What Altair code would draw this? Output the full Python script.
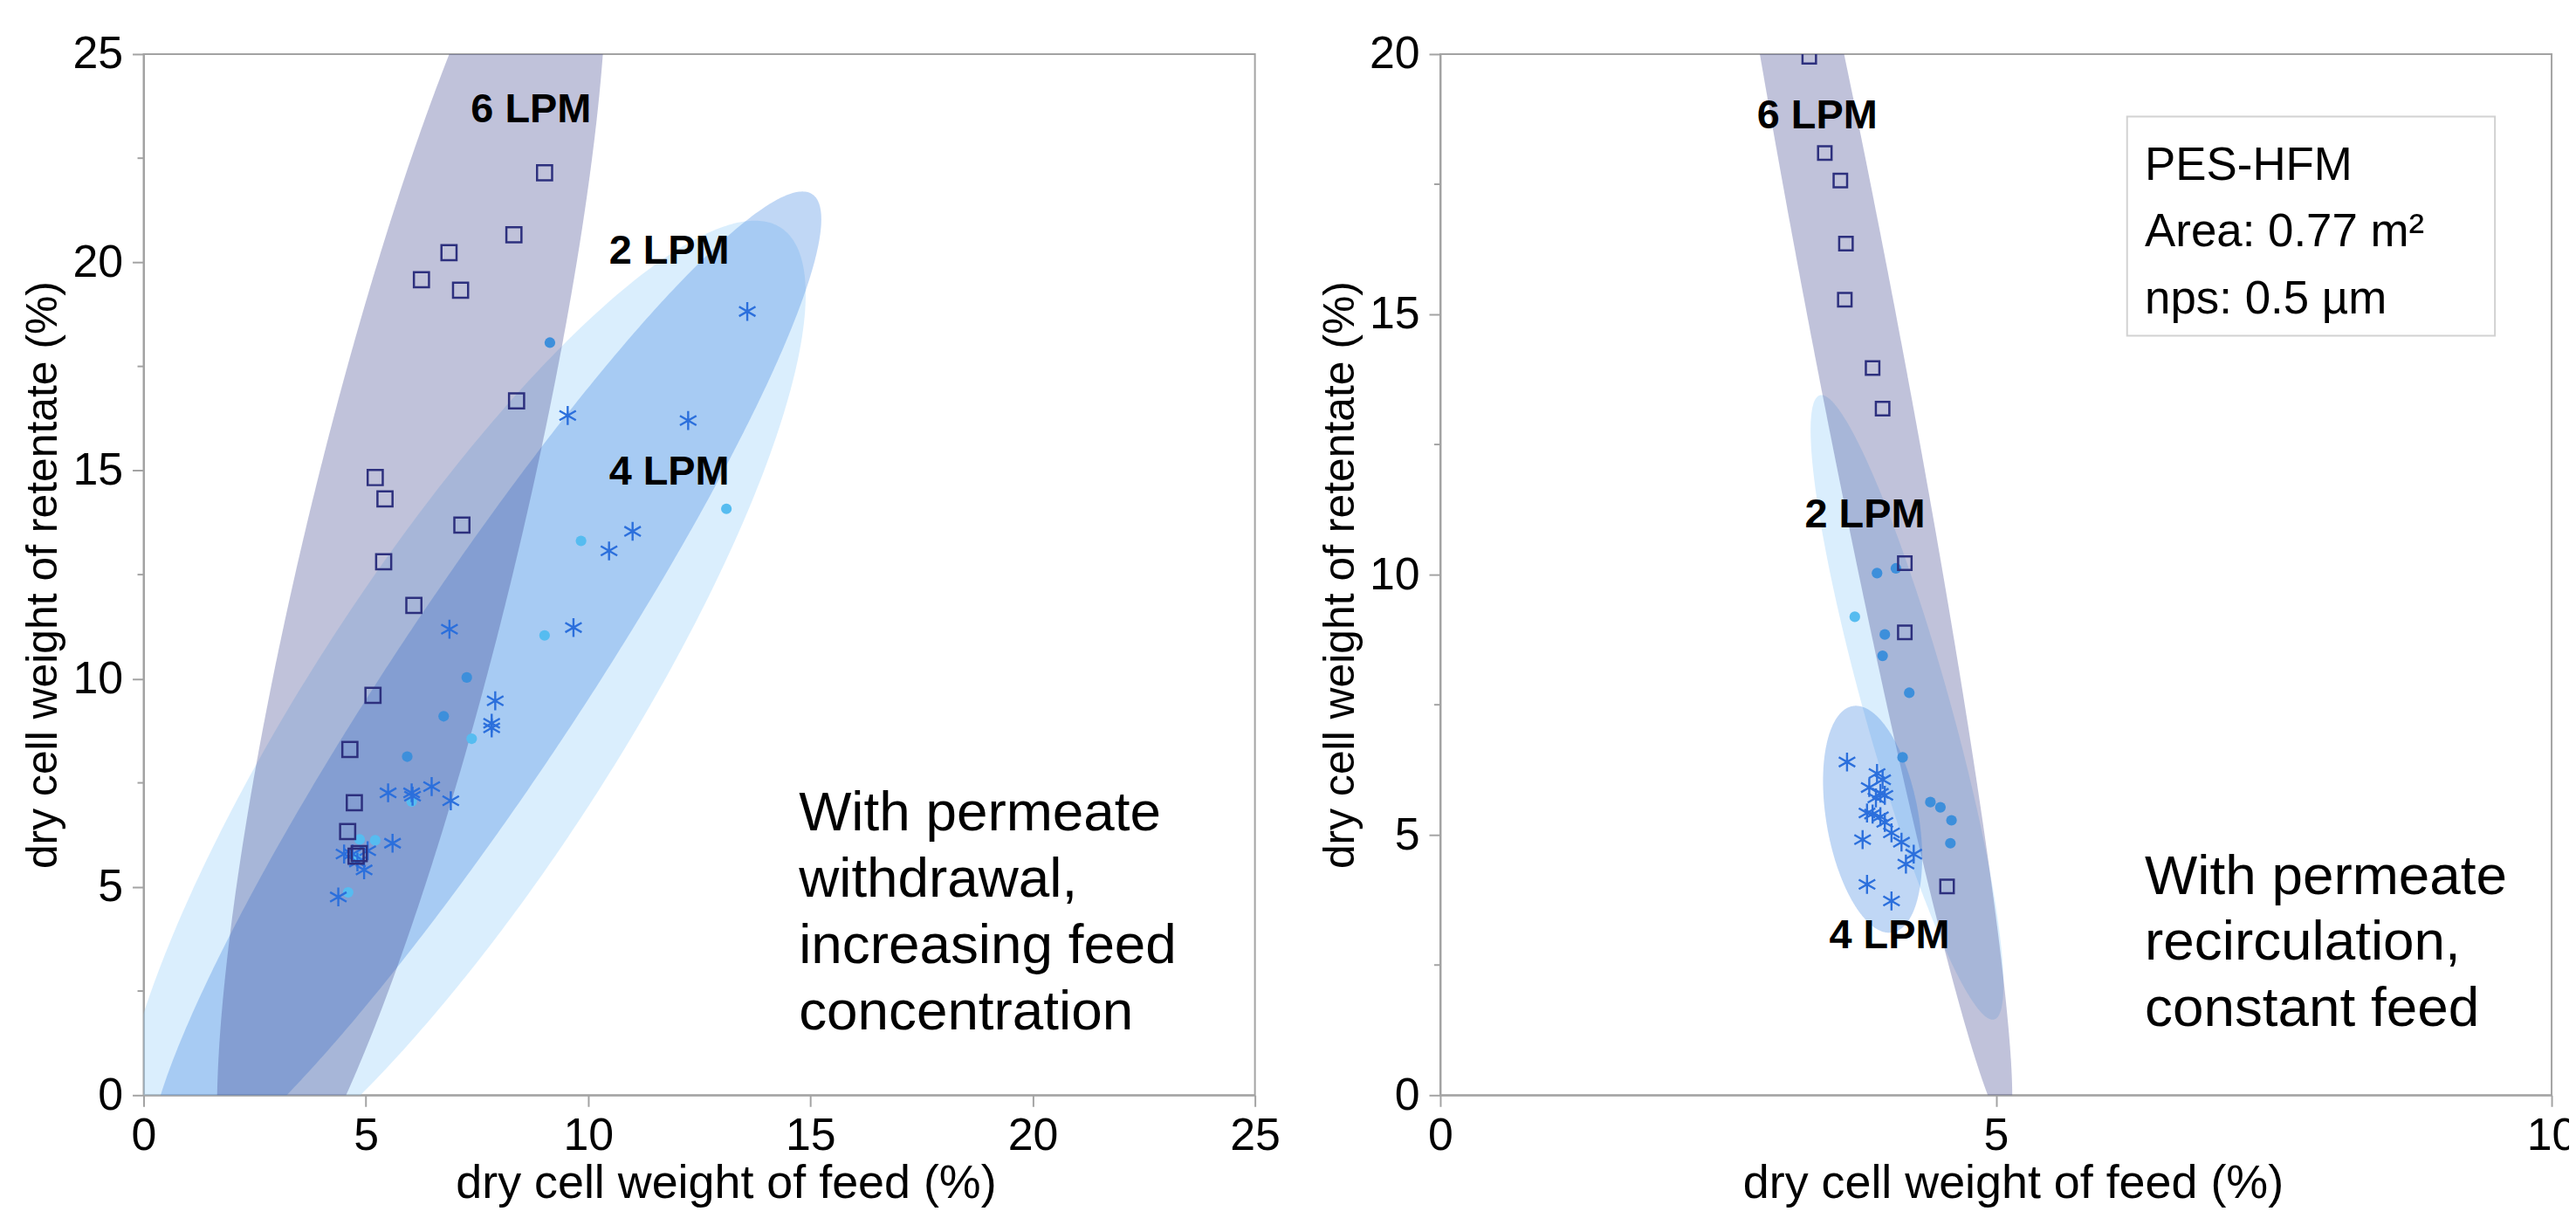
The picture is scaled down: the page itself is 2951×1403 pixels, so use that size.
import altair as alt
import pandas as pd
import numpy as np

# ---------------- data ----------------
# Left panel: with permeate withdrawal
L6_x = [9.02, 8.33, 6.87, 6.25, 7.13, 8.39, 5.21, 5.43, 7.16, 5.40, 6.08, 5.16, 4.64, 4.74, 4.59, 4.78, 4.85]
L6_y = [22.15, 20.66, 20.23, 19.58, 19.33, 16.67, 14.83, 14.32, 13.69, 12.81, 11.76, 9.60, 8.30, 7.02, 6.33, 5.74, 5.80]
L4_x = [13.58, 9.54, 12.25, 11.00, 10.47, 6.88, 9.67, 7.91, 7.83, 7.83, 5.50, 6.03, 6.05, 6.48, 6.91, 5.60, 4.51, 4.70, 5.04, 4.96, 4.38, 4.81]
L4_y = [18.82, 16.32, 16.20, 13.54, 13.07, 11.19, 11.23, 9.47, 8.93, 8.82, 7.26, 7.26, 7.18, 7.41, 7.07, 6.05, 5.79, 5.79, 5.87, 5.41, 4.76, 5.60]
L2a_x = [9.14, 7.27, 6.75, 5.93]
L2a_y = [18.07, 10.03, 9.10, 8.13]
L2b_x = [9.84, 13.11, 9.02, 7.38, 6.03, 5.21, 4.86, 4.60, 4.78]
L2b_y = [13.31, 14.08, 11.04, 8.56, 7.05, 6.12, 6.14, 4.87, 5.70]

# Right panel: with permeate recirculation
R6_x = [3.32, 3.46, 3.60, 3.65, 3.64, 3.89, 3.98, 4.18, 4.18, 4.56]
R6_y = [19.95, 18.10, 17.57, 16.36, 15.28, 13.97, 13.19, 10.22, 8.89, 4.01]
R4_x = [3.66, 3.93, 3.98, 3.86, 3.96, 4.00, 3.92, 3.84, 3.89, 3.96, 4.00, 4.06, 4.15, 4.26, 4.19, 3.80, 3.84, 4.06]
R4_y = [6.40, 6.18, 6.06, 5.91, 5.80, 5.76, 5.71, 5.42, 5.40, 5.35, 5.24, 5.04, 4.86, 4.63, 4.44, 4.91, 4.05, 3.73]
R2a_x = [3.93, 4.10, 4.00, 3.98, 4.22, 4.16, 4.41, 4.50, 4.60, 4.59]
R2a_y = [10.03, 10.12, 8.85, 8.44, 7.73, 6.49, 5.63, 5.53, 5.28, 4.84]
R2b_x = [3.73]
R2b_y = [9.19]

# density ellipses: centre x, centre y, conjugate (vertical) half-diameter vx, vy, horizontal half-width
L_ell = {"2 LPM": (7.15, 9.0, 6.6, 12.0, 4.05),
         "4 LPM": (7.68, 9.8, 7.14, 11.9, 2.5),
         "6 LPM": (6.03, 13.3, 3.63, 16.5, 2.45)}
R_ell = {"2 LPM": (4.20, 7.45, -0.77, 6.0, 0.40),
         "6 LPM": (3.70, 15.0, -1.39, 15.6, 0.40),
         "4 LPM": (3.89, 5.3, -0.15, 2.18, 0.42)}

L_labels = ["6 LPM", "2 LPM", "4 LPM"]
L_lab_x = [7.36, 10.47, 10.47]
L_lab_y = [23.36, 19.96, 14.66]
R_labels = ["6 LPM", "2 LPM", "4 LPM"]
R_lab_x = [2.85, 3.28, 3.5]
R_lab_y = [18.58, 10.91, 2.82]

L_note = ["With permeate", "withdrawal,", "increasing feed", "concentration"]
L_note_x, L_note_y0, L_note_dy = 14.74, 6.35, 1.59
R_note = ["With permeate", "recirculation,", "constant feed"]
R_note_x, R_note_y0, R_note_dy = 6.34, 3.87, 1.27
R_box_lines = ["PES-HFM", "Area: 0.77 m\u00b2", "nps: 0.5 \u00b5m"]
R_box = (6.18, 9.49, 14.59, 18.8)
R_box_text_x, R_box_y0, R_box_dy = 6.34, 17.59, 1.285

L_minor = [2.5, 7.5, 12.5, 17.5, 22.5]
R_minor = [2.5, 7.5, 12.5, 17.5]

# ---------------- styles ----------------
ELL_COL = {"2 LPM": ("#9fd3fa", 0.38), "4 LPM": ("#3c82e0", 0.32), "6 LPM": ("#3c428c", 0.32)}
REG = "Liberation Sans, Arial"
AX = "#a3a3a3"
W, H = 1277, 1196


def ellipse_df(p, n=241):
    cx, cy, vx, vy, h = p
    t = np.linspace(-np.pi / 2, np.pi / 2, n)
    s, c = np.sin(t), np.cos(t)
    mid = cx + vx * s
    return pd.DataFrame({"ey": cy + vy * s, "xl": mid - h * c, "xr": mid + h * c})


def panel(xmax, ymax, xvals, yvals, ells, sq, ast, da, db, labs, note, box, minor, sqsize, titlex):
    xs = alt.Scale(domain=[0, xmax], nice=False, zero=False)
    ys = alt.Scale(domain=[0, ymax], nice=False, zero=False)
    xax = alt.Axis(values=xvals, tickSize=13, tickWidth=2, tickColor=AX, domainColor=AX, domainWidth=2,
                   labelFont=REG, labelFontSize=52, labelColor="black", labelPadding=8, labelFlush=False,
                   title="dry cell weight of feed (%)", titleFont=REG, titleFontSize=54, titleFontWeight="normal",
                   titleColor="black", titlePadding=3, titleX=titlex, grid=False)
    yax = alt.Axis(values=yvals, tickSize=13, tickWidth=2, tickColor=AX, domainColor=AX, domainWidth=2,
                   labelFont=REG, labelFontSize=52, labelColor="black", labelPadding=11, labelFlush=False,
                   title="dry cell weight of retentate (%)", titleFont=REG, titleFontSize=50,
                   titleFontWeight="normal", titleColor="black", titlePadding=8, grid=False)

    def X(f):
        return alt.X(f, type="quantitative", scale=xs, axis=xax)

    def Y(f):
        return alt.Y(f, type="quantitative", scale=ys, axis=yax)

    layers = []
    for name, p in ells.items():
        col, op = ELL_COL[name]
        layers.append(alt.Chart(ellipse_df(p)).mark_area(clip=True, color=col, opacity=op, orient="horizontal")
                      .encode(y=Y("ey"), x=X("xl"), x2=alt.X2("xr")))
    d_a = pd.DataFrame({"x": da[0], "y": da[1]})
    d_b = pd.DataFrame({"x": db[0], "y": db[1]})
    layers.append(alt.Chart(d_a).mark_point(filled=True, shape="circle", size=150, color="#3d8fdb", opacity=1, clip=True)
                  .encode(x=X("x"), y=Y("y")))
    layers.append(alt.Chart(d_b).mark_point(filled=True, shape="circle", size=150, color="#56bcf0", opacity=1, clip=True)
                  .encode(x=X("x"), y=Y("y")))
    d_ast = pd.DataFrame({"x": ast[0], "y": ast[1]})
    layers.append(alt.Chart(d_ast).mark_point(shape="M0,-1L0,1M-0.87,-0.5L0.87,0.5M-0.87,0.5L0.87,-0.5",
                                              filled=False, size=470, strokeWidth=2.4, color="#2b6fdc", opacity=1, clip=True)
                  .encode(x=X("x"), y=Y("y")))
    d_sq = pd.DataFrame({"x": sq[0], "y": sq[1]})
    layers.append(alt.Chart(d_sq).mark_point(shape="square", filled=False, size=sqsize, strokeWidth=2.5,
                                             color="#2d307e", opacity=1, clip=True)
                  .encode(x=X("x"), y=Y("y")))
    d_lab = pd.DataFrame({"t": labs[0], "x": labs[1], "y": labs[2]})
    layers.append(alt.Chart(d_lab).mark_text(align="left", baseline="alphabetic", font=REG, fontSize=47,
                                             fontWeight="bold", color="black")
                  .encode(x=X("x"), y=Y("y"), text="t:N"))
    lines, nx, ny0, ndy = note
    d_note = pd.DataFrame({"t": lines, "x": [nx] * len(lines), "y": [ny0 - i * ndy for i in range(len(lines))]})
    layers.append(alt.Chart(d_note).mark_text(align="left", baseline="alphabetic", font=REG, fontSize=64,
                                              color="black")
                  .encode(x=X("x"), y=Y("y"), text="t:N"))
    if box is not None:
        (bx0, bx1, by0, by1), blines, btx, bty0, bdy = box
        d_box = pd.DataFrame({"x": [bx0], "x2": [bx1], "y": [by0], "y2": [by1]})
        layers.append(alt.Chart(d_box).mark_rect(fill="white", stroke="#d2d2d2", strokeWidth=2)
                      .encode(x=X("x"), x2="x2", y=Y("y"), y2="y2"))
        d_bt = pd.DataFrame({"t": blines, "x": [btx] * len(blines), "y": [bty0 - i * bdy for i in range(len(blines))]})
        layers.append(alt.Chart(d_bt).mark_text(align="left", baseline="alphabetic", font=REG, fontSize=53,
                                                color="black")
                      .encode(x=X("x"), y=Y("y"), text="t:N"))
    d_min = pd.DataFrame({"v": minor})
    layers.append(alt.Chart(d_min).mark_rule(color=AX, strokeWidth=2)
                  .encode(y=Y("v"), x=alt.value(-7), x2=alt.value(0)))
    return alt.layer(*layers).properties(width=W, height=H)


left = panel(25, 25, [0, 5, 10, 15, 20, 25], [0, 5, 10, 15, 20, 25], L_ell,
             (L6_x, L6_y), (L4_x, L4_y), (L2a_x, L2a_y), (L2b_x, L2b_y),
             (L_labels, L_lab_x, L_lab_y), (L_note, L_note_x, L_note_y0, L_note_dy), None, L_minor, 300, 669)
right = panel(10, 20, [0, 5, 10], [0, 5, 10, 15, 20], R_ell,
              (R6_x, R6_y), (R4_x, R4_y), (R2a_x, R2a_y), (R2b_x, R2b_y),
              (R_labels, R_lab_x, R_lab_y), (R_note, R_note_x, R_note_y0, R_note_dy),
              (R_box, R_box_lines, R_box_text_x, R_box_y0, R_box_dy), R_minor, 240, 658)

chart = (alt.hconcat(left, right, spacing=42)
         .configure_view(stroke=AX, strokeWidth=2)
         .properties(background="white", padding={"left": 16, "top": 25, "right": -10, "bottom": 0}))

chart.save("out.html", embed_options={"renderer": "svg", "actions": False})
